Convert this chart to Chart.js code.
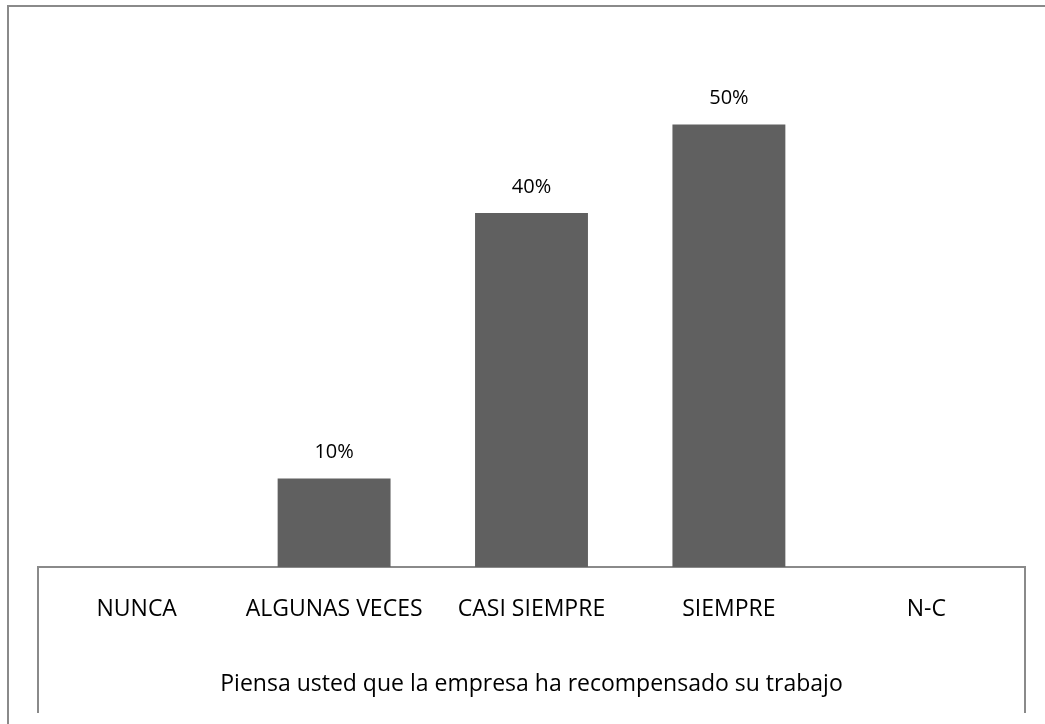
<!DOCTYPE html>
<html>
<head>
<meta charset="utf-8">
<script src="https://cdn.jsdelivr.net/npm/chart.js@4"></script>
<style>
    html, body { margin: 0; padding: 0; background: #fff; overflow: hidden; }
    #frame {
        position: absolute; left: 7px; top: 5px;
        width: 1100px; height: 800px;
        border: 2px solid #8a8a8a; box-sizing: border-box;
    }
    #wrap { position: absolute; left: 0; top: 0; width: 1045px; height: 724px; }
</style>
</head>
<body>
<div id="frame"></div>
<div id="wrap"><canvas id="barChart" width="1045" height="724"></canvas></div>
<script>
// Data
const categories = ['NUNCA', 'ALGUNAS VECES', 'CASI SIEMPRE', 'SIEMPRE', 'N-C'];
const percentages = [0, 10, 40, 50, 0];
const axisTitle = 'Piensa usted que la empresa ha recompensado su trabajo';

const fontFamily = "'Open Sans', 'Liberation Sans', sans-serif";
const lineColor = '#8a8a8a';

// Value labels above the bars
const valueLabels = {
    id: 'valueLabels',
    afterDatasetsDraw(chart) {
        const ctx = chart.ctx;
        const meta = chart.getDatasetMeta(0);
        ctx.save();
        ctx.font = '20px ' + fontFamily;
        ctx.fillStyle = '#000';
        ctx.textAlign = 'center';
        ctx.textBaseline = 'middle';
        meta.data.forEach((bar, i) => {
            const v = percentages[i];
            if (!v) return;
            ctx.fillText(v + '%', bar.x, bar.y - 26);
        });
        ctx.restore();
    }
};

// Side lines of the axis box under the plot
const axisBox = {
    id: 'axisBox',
    afterDraw(chart) {
        const ctx = chart.ctx;
        const area = chart.chartArea;
        ctx.save();
        ctx.strokeStyle = lineColor;
        ctx.lineWidth = 2;
        ctx.beginPath();
        ctx.moveTo(area.left, area.bottom);
        ctx.lineTo(area.left, area.bottom + 146);
        ctx.moveTo(area.right, area.bottom);
        ctx.lineTo(area.right, area.bottom + 146);
        ctx.stroke();
        ctx.restore();
    }
};

new Chart(document.getElementById('barChart'), {
    type: 'bar',
    data: {
        labels: categories,
        datasets: [{
            data: percentages,
            backgroundColor: '#606060',
            borderWidth: 0,
            categoryPercentage: 1,
            barPercentage: 0.572
        }]
    },
    options: {
        responsive: false,
        animation: false,
        layout: {
            padding: { left: 38, right: 20, top: 36, bottom: 0 }
        },
        scales: {
            y: {
                display: false,
                min: 0,
                max: 60
            },
            x: {
                afterFit: function(scale) {
                    scale.height = 157;
                },
                grid: { display: false },
                border: { display: true, color: lineColor, width: 2 },
                ticks: {
                    color: '#000',
                    padding: 21,
                    maxRotation: 0,
                    font: { family: fontFamily, size: 23 }
                },
                title: {
                    display: true,
                    text: axisTitle,
                    color: '#000',
                    padding: { top: 26, bottom: 26 },
                    font: { family: fontFamily, size: 23 }
                }
            }
        },
        plugins: {
            legend: { display: false },
            tooltip: { enabled: false }
        }
    },
    plugins: [valueLabels, axisBox]
});
</script>
</body>
</html>
